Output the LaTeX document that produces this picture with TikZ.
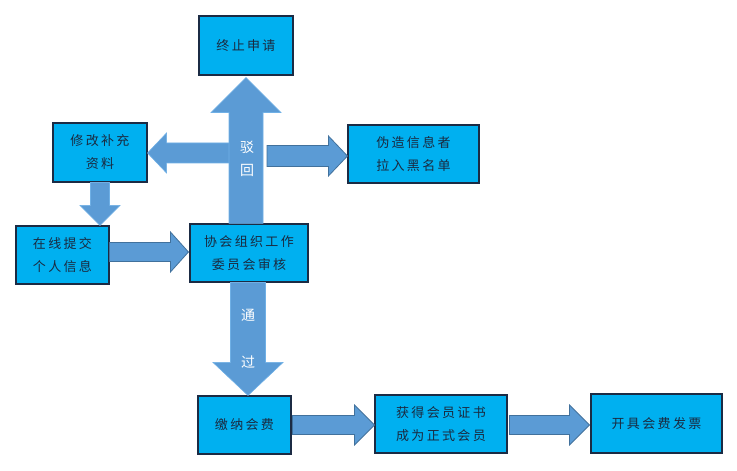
\documentclass[tikz,border=0pt]{standalone}
\usepackage{fontspec}
\newfontfamily\cjk[LetterSpace=18]{Noto Sans CJK SC}
\usetikzlibrary{calc}
\definecolor{boxfill}{HTML}{00B0F0}
\definecolor{boxline}{HTML}{1B2B44}
\definecolor{txt}{HTML}{1A2A40}
\definecolor{arrfill}{HTML}{5B9BD5}
\definecolor{arrline}{HTML}{41719C}
\definecolor{arrlight}{HTML}{6FB0E6}
\tikzset{
  stepbox/.style={draw=boxline, line width=1.1pt, fill=boxfill, text=txt,
    inner sep=0pt, align=center, font=\cjk\fontsize{13}{23}\selectfont},
  darrow/.style={fill=arrfill, draw=arrline, line width=0.8pt},
  larrow/.style={fill=arrfill, draw=arrlight, line width=0.6pt},
  arrlabel/.style={text=white, inner sep=0pt, font=\cjk\fontsize{14}{14}\selectfont},
}
% #1 style, #2 start, #3 end, #4 shaft half width, #5 head half width, #6 head length
\newcommand\blockarrow[6]{%
  \path[#1] let \p1=(#2), \p2=(#3),
    \n1={atan2(\y2-\y1,\x2-\x1)}, \n2={veclen(\x2-\x1,\y2-\y1)} in
    ($(\p1)+(\n1+90:#4pt)$)
    -- ($(\p1)+(\n1:\n2-#6pt)+(\n1+90:#4pt)$)
    -- ($(\p1)+(\n1:\n2-#6pt)+(\n1+90:#5pt)$)
    -- (\p2)
    -- ($(\p1)+(\n1:\n2-#6pt)+(\n1-90:#5pt)$)
    -- ($(\p1)+(\n1:\n2-#6pt)+(\n1-90:#4pt)$)
    -- ($(\p1)+(\n1-90:#4pt)$) -- cycle;}
\begin{document}
\begin{tikzpicture}[x=1pt,y=1pt]
\useasboundingbox[fill=white] (0,0) rectangle (737,471);
% boxes (y = 471 - pixel y)
\node[stepbox, minimum width=94pt, minimum height=59pt] (stop) at (246,425.5) {终止申请};
\node[stepbox, minimum width=94pt, minimum height=59pt] (modify) at (100,318.5) {修改补充\\资料};
\node[stepbox, minimum width=131pt, minimum height=58pt] (fake) at (413.5,317) {伪造信息者\\拉入黑名单};
\node[stepbox, minimum width=93pt, minimum height=58pt] (online) at (62.5,216) {在线提交\\个人信息};
\node[stepbox, minimum width=118pt, minimum height=58pt] (audit) at (249,218) {协会组织工作\\委员会审核};
\node[stepbox, minimum width=93pt, minimum height=58pt] (pay) at (244.5,46) {缴纳会费};
\node[stepbox, minimum width=132pt, minimum height=58pt] (cert) at (441,47) {获得会员证书\\成为正式会员};
\node[stepbox, minimum width=131pt, minimum height=59pt] (invoice) at (656.5,47.5) {开具会费发票};
% helper coordinates
\coordinate (leftstart) at ($(stop.south |- modify.east)+(0,-0.5)$);
\coordinate (leftend) at ($(modify.east)+(0,-0.5)$);
\coordinate (upstart) at (stop.south |- audit.north);
\coordinate (upend) at ($(stop.south)+(0,-2)$);
\coordinate (rightstart) at ($(stop.south |- fake.west)+(21,-2)$);
\coordinate (rightend) at ($(fake.west)+(0,-2)$);
\coordinate (mdend) at (modify.south |- online.north);
\coordinate (onstart) at ($(online.east)+(0,3)$);
\coordinate (onend) at ($(online.east -| audit.west)+(-1,3)$);
\coordinate (downstart) at ($(audit.south)+(-1,0)$);
\coordinate (downend) at ($(audit.south |- pay.north)+(-1,0)$);
\coordinate (p1start) at ($(pay.east)+(1,0)$);
\coordinate (p1end) at (pay.east -| cert.west);
\coordinate (p2start) at ($(cert.east)+(2,-1)$);
\coordinate (p2end) at ($(cert.east -| invoice.west)+(-1,-1)$);
% block arrows
\blockarrow{larrow}{leftstart}{leftend}{10}{20}{19}
\blockarrow{larrow}{upstart}{upend}{17}{35}{35}
\blockarrow{darrow}{rightstart}{rightend}{10.5}{20}{19}
\blockarrow{larrow}{modify.south}{mdend}{9.5}{20}{20}
\blockarrow{darrow}{onstart}{onend}{9.5}{20}{18}
\blockarrow{larrow}{downstart}{downend}{17.5}{35}{33}
\blockarrow{darrow}{p1start}{p1end}{9.5}{20}{20}
\blockarrow{darrow}{p2start}{p2end}{9.5}{20}{20}
% arrow labels
\node[arrlabel] (bo) at (247,324) {驳};
\node[arrlabel] (hui) at (247,301) {回};
\node[arrlabel] (tong) at (248,156) {通};
\node[arrlabel] (guo) at (248,109) {过};
\end{tikzpicture}
\end{document}
